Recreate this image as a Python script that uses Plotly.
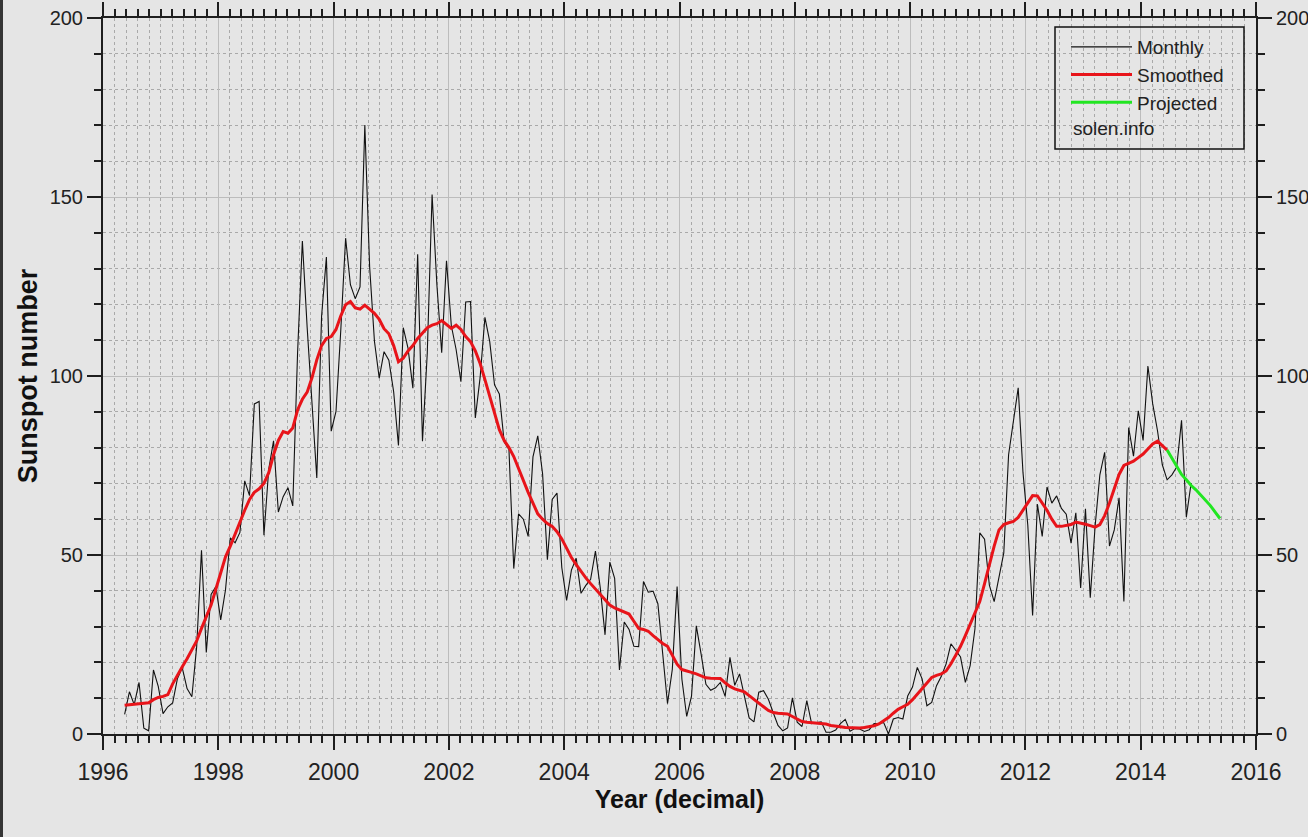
import plotly.graph_objects as go

# ---------------- data ----------------
monthly_start = (1996, 5)
monthly_values = [
    5.5, 11.8, 8.2, 14.4, 1.6, 0.9, 17.9, 13.3,
    5.7, 7.6, 8.7, 15.5, 18.5, 12.7, 10.4, 24.4, 51.3, 22.8, 39.0, 41.2,
    31.9, 40.3, 54.8, 53.4, 56.3, 70.7, 66.6, 92.2, 92.9, 55.5, 74.0, 81.9,
    62.0, 66.3, 68.8, 63.7, 106.4, 137.7, 113.5, 93.7, 71.5, 116.7, 133.2, 84.6,
    90.1, 112.9, 138.5, 125.5, 121.6, 124.9, 170.1, 130.5, 109.7, 99.4, 106.8, 104.4,
    95.6, 80.6, 113.5, 107.7, 96.6, 134.0, 81.8, 106.4, 150.7, 125.5, 106.5, 132.2,
    114.1, 107.4, 98.4, 120.7, 120.8, 88.3, 99.6, 116.4, 109.6, 97.5, 95.0, 81.6,
    79.5, 46.2, 61.5, 60.0, 55.2, 77.4, 83.3, 72.7, 48.7, 65.5, 67.3, 46.5,
    37.3, 45.8, 49.1, 39.3, 41.5, 43.2, 51.1, 40.9, 27.7, 48.0, 43.5, 17.9,
    31.3, 29.2, 24.5, 24.4, 42.6, 39.6, 39.9, 36.4, 22.1, 8.5, 18.0, 41.2,
    15.3, 4.9, 10.6, 30.2, 22.3, 13.9, 12.2, 12.9, 14.4, 10.5, 21.4, 13.6,
    16.8, 10.7, 4.5, 3.4, 11.7, 12.1, 9.7, 6.0, 2.4, 0.9, 1.7, 10.1,
    3.3, 2.1, 9.3, 2.9, 3.2, 3.4, 0.5, 0.5, 1.1, 2.9, 4.1, 0.8,
    1.5, 1.4, 0.7, 1.2, 2.9, 2.9, 3.2, 0.0, 4.2, 4.6, 4.2, 10.6,
    13.1, 18.6, 15.4, 7.9, 8.8, 13.5, 16.1, 19.6, 25.2, 23.5, 21.5, 14.4,
    19.1, 29.4, 56.2, 54.4, 41.6, 37.0, 43.9, 50.6, 78.0, 88.0, 96.7, 73.0,
    58.3, 33.1, 64.2, 55.2, 69.0, 64.5, 66.5, 63.0, 61.4, 53.3, 61.8, 40.8,
    62.9, 38.1, 57.9, 72.4, 78.7, 52.5, 57.0, 66.0, 37.0, 85.6, 77.6, 90.3,
    82.0, 102.8, 92.2, 84.7, 75.2, 71.0, 72.4, 74.6, 87.6, 60.6, 70.1,
]

smoothed_start = (1996, 5)
smoothed_values = [
    8.0, 8.1, 8.2, 8.3, 8.5, 8.7, 9.6, 10.2,
    10.5, 11.0, 14.0, 16.6, 18.8, 21.0, 23.4, 26.0, 29.5, 32.5, 36.0, 40.5,
    45.0, 49.5, 52.5, 56.0, 59.5, 62.5, 65.5, 67.5, 68.5, 70.0, 73.0, 78.0,
    82.0, 84.5, 84.0, 85.5, 90.5, 93.5, 95.5, 99.5, 104.5, 108.5, 110.5, 111.0,
    113.0, 116.8, 119.9, 120.8, 119.0, 118.7, 119.8, 118.6, 117.5, 115.8, 113.2, 111.8,
    108.5, 104.0, 105.0, 107.0, 108.5, 110.5, 112.0, 113.5, 114.2, 114.6, 115.5, 114.5,
    113.3, 114.2, 113.0, 111.0, 109.6, 107.0, 103.5, 99.0, 94.5, 89.5, 85.0, 82.0,
    80.0, 77.5, 74.0, 70.5, 67.5, 64.5, 61.5, 60.0, 58.8, 58.0, 56.5, 54.5,
    52.0, 49.3, 47.3, 45.3, 43.6, 42.0, 40.5, 39.0, 37.4, 36.0, 35.2, 34.7,
    34.2, 33.5, 31.5, 29.5, 29.2, 28.7, 27.5, 26.3, 25.3, 24.5, 22.0, 19.5,
    18.0, 17.5, 17.2, 16.8, 16.2, 15.7, 15.6, 15.6, 15.5, 14.3, 13.3, 12.6,
    12.2, 11.8, 10.7, 9.6, 8.6, 7.6, 6.6, 6.0, 5.8, 5.7, 5.6, 4.9,
    4.2, 3.5, 3.3, 3.2, 3.1, 3.0, 2.8, 2.4, 2.1, 2.0, 1.8, 1.7,
    1.6, 1.7, 1.8, 2.0, 2.3, 2.8, 3.6, 4.6, 5.8, 6.9, 7.6, 8.3,
    9.6, 11.2, 12.8, 14.5, 15.8, 16.4, 16.8, 17.6, 19.6, 22.0, 24.5, 27.5,
    30.5, 33.5, 37.0, 42.0, 47.5, 52.5, 57.0, 58.5, 59.0, 59.4, 60.5, 62.5,
    64.8, 66.6, 66.5, 64.5, 62.5, 60.0, 58.0, 58.0, 58.2, 58.5, 59.2, 59.0,
    58.6, 58.2, 57.8, 58.5, 61.0, 64.5, 68.5, 72.5, 75.0, 75.7, 76.2, 77.2,
    78.2, 79.6, 81.0, 81.8, 80.6, 79.3,
]

projected_start = (2014, 6)
projected_values = [79.3, 77.0, 74.5, 72.5, 71.0, 69.4, 68.2, 66.8, 65.5, 63.8, 62.0, 60.2]

x_tick_values = [1996, 1998, 2000, 2002, 2004, 2006, 2008, 2010, 2012, 2014, 2016]
y_tick_values = [0, 50, 100, 150, 200]


def decimal_years(start, n):
    y0, m0 = start
    return [y0 + (m0 - 1 + i + 0.5) / 12.0 for i in range(n)]


# ---------------- figure ----------------
W, H = 1308, 837
ML, MR, MT, MB = 103, 52, 18, 103
PW, PH = W - ML - MR, H - MT - MB


def px_x(px):
    return (px - ML) / PW


def px_y(py):
    return (H - MB - py) / PH


BG = "#e5e5e5"
FONT = "Liberation Sans, Arial, sans-serif"

fig = go.Figure()
fig.add_trace(go.Scatter(
    x=decimal_years(monthly_start, len(monthly_values)), y=monthly_values,
    mode="lines", name="Monthly", line=dict(color="#111111", width=1.1),
))
fig.add_trace(go.Scatter(
    x=decimal_years(smoothed_start, len(smoothed_values)), y=smoothed_values,
    mode="lines", name="Smoothed", line=dict(color="#e8141a", width=3),
))
fig.add_trace(go.Scatter(
    x=decimal_years(projected_start, len(projected_values)), y=projected_values,
    mode="lines", name="Projected", line=dict(color="#22e622", width=3),
))
# placeholder row for the "solen.info" legend text
fig.add_trace(go.Scatter(
    x=[None], y=[None], mode="lines", name=" ",
    line=dict(color="rgba(0,0,0,0)", width=1), hoverinfo="skip",
))
# trace on the right-hand axis so it is drawn
fig.add_trace(go.Scatter(
    x=[None], y=[None], yaxis="y2", mode="lines", showlegend=False, hoverinfo="skip",
))

axis_color = "#1e1e1e"
grid_major = "#bcbcbc"
grid_minor = "#a9a9a9"

fig.update_layout(
    width=W, height=H,
    margin=dict(l=ML, r=MR, t=MT, b=MB, autoexpand=False),
    paper_bgcolor=BG, plot_bgcolor=BG,
    font=dict(family=FONT, color="#222222"),
    showlegend=True,
    legend=dict(
        x=px_x(1066), y=px_y(28), xanchor="left", yanchor="top",
        bgcolor="rgba(0,0,0,0)", borderwidth=0,
        font=dict(family=FONT, size=19, color="#222222"),
        itemwidth=61, tracegroupgap=0,
    ),
    xaxis=dict(
        range=[1996, 2016], tickvals=x_tick_values, ticktext=[str(v) for v in x_tick_values],
        ticks="outside", ticklen=14, tickwidth=2, tickcolor=axis_color,
        showline=True, linecolor=axis_color, linewidth=2, mirror="ticks",
        showgrid=True, gridcolor=grid_major, gridwidth=1,
        zeroline=False,
        tickfont=dict(family=FONT, size=23, color="#222222"),
        ticklabelstandoff=2,
        minor=dict(dtick=0.2, ticks="outside", ticklen=7, tickwidth=1.5, tickcolor=axis_color,
                   showgrid=True, gridcolor=grid_minor, griddash="dot", gridwidth=1),
        title=dict(text="<b>Year (decimal)</b>", font=dict(family=FONT, size=25, color="#111111"),
                   standoff=4),
        fixedrange=True,
    ),
    yaxis=dict(
        range=[0, 200], tickvals=y_tick_values, ticktext=[str(v) for v in y_tick_values],
        ticks="outside", ticklen=14, tickwidth=2, tickcolor=axis_color,
        showline=True, linecolor=axis_color, linewidth=2, mirror=False,
        showgrid=True, gridcolor=grid_major, gridwidth=1,
        zeroline=False,
        tickfont=dict(family=FONT, size=20, color="#222222"),
        minor=dict(dtick=10, ticks="outside", ticklen=7, tickwidth=1.5, tickcolor=axis_color,
                   showgrid=True, gridcolor=grid_minor, griddash="dot", gridwidth=1),
        title=dict(text="<b>Sunspot number</b>", font=dict(family=FONT, size=27, color="#111111"),
                   standoff=4),
        fixedrange=True,
    ),
    yaxis2=dict(
        overlaying="y", side="right", range=[0, 200],
        tickvals=y_tick_values, ticktext=[str(v) for v in y_tick_values],
        ticks="outside", ticklen=14, tickwidth=2, tickcolor=axis_color,
        showline=True, linecolor=axis_color, linewidth=2,
        showgrid=False, zeroline=False,
        tickfont=dict(family=FONT, size=20, color="#222222"),
        minor=dict(dtick=10, ticks="outside", ticklen=7, tickwidth=1.5, tickcolor=axis_color,
                   showgrid=False),
        fixedrange=True,
    ),
    shapes=[
        # legend frame
        dict(type="rect", xref="paper", yref="paper",
             x0=px_x(1055), x1=px_x(1244), y0=px_y(149), y1=px_y(27),
             line=dict(color="#111111", width=1.5), fillcolor="rgba(0,0,0,0)", layer="above"),
        # dark strip on the left edge of the window
        dict(type="rect", xref="paper", yref="paper",
             x0=px_x(0), x1=px_x(3), y0=px_y(H), y1=px_y(0),
             line=dict(width=0), fillcolor="#353535", layer="above"),
    ],
    annotations=[
        dict(text="solen.info", xref="paper", yref="paper",
             x=px_x(1071), y=px_y(128), xanchor="left", yanchor="middle",
             showarrow=False, font=dict(family=FONT, size=19, color="#222222")),
    ],
)

fig.write_html("out.html")
